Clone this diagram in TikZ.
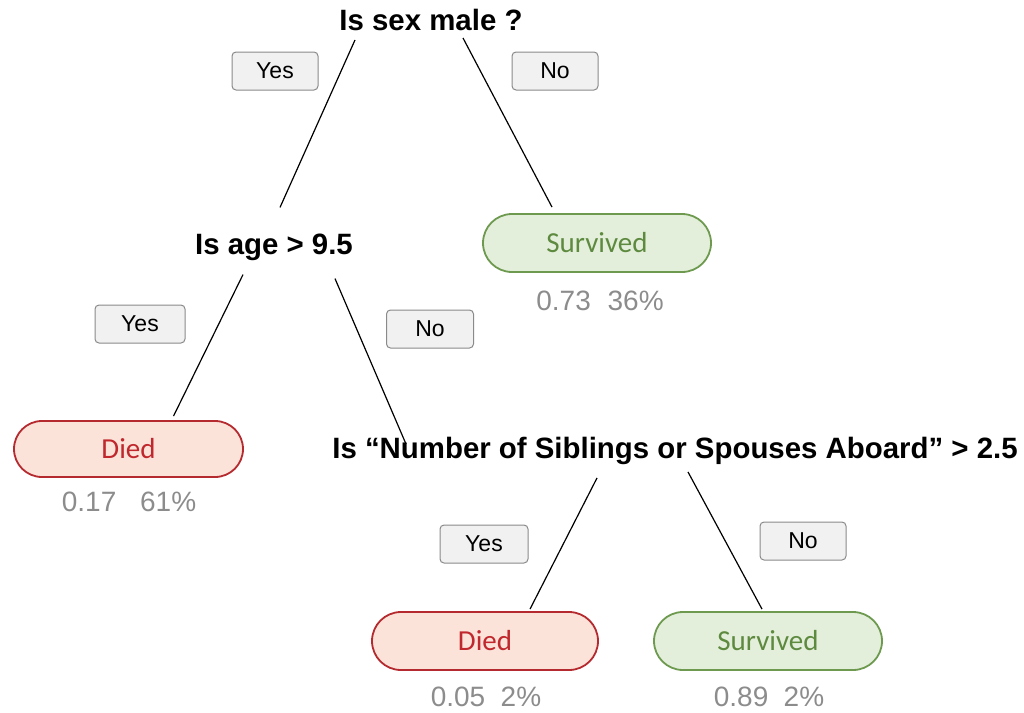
\documentclass[tikz,border=0pt]{standalone}
\usepackage{fontspec}
\setmainfont{Liberation Sans}
\newfontfamily\calib{Carlito}
\definecolor{sfill}{HTML}{E3EFDA}
\definecolor{sdraw}{HTML}{6E9A50}
\definecolor{stext}{HTML}{5E8A40}
\definecolor{dfill}{HTML}{FBE3DA}
\definecolor{ddraw}{HTML}{B52A2E}
\definecolor{dtext}{HTML}{C0282D}
\definecolor{ynfill}{HTML}{F1F1F1}
\definecolor{yndraw}{HTML}{8A8A8A}
\definecolor{numgray}{HTML}{8C8C8C}
\begin{document}
\begin{tikzpicture}[x=1pt,y=-1pt,
  question/.style={font=\fontsize{29.4}{32}\selectfont\bfseries, inner sep=0pt},
  yn/.style={draw=yndraw, fill=ynfill, rounded corners=4pt, line width=1pt, minimum width=86pt, minimum height=38pt, inner sep=0pt, font=\fontsize{23}{26}\selectfont},
  surv/.style={draw=sdraw, fill=sfill, text=stext, rounded corners=29pt, line width=1.8pt, minimum width=228pt, minimum height=58pt, inner sep=0pt, font=\calib\fontsize{29}{31}\selectfont},
  died/.style={draw=ddraw, fill=dfill, text=dtext, rounded corners=28pt, line width=1.8pt, minimum width=228pt, minimum height=56pt, inner sep=0pt, font=\calib\fontsize{29}{31}\selectfont},
  num/.style={text=numgray, font=\fontsize{28}{30}\selectfont, inner sep=0pt},
  edge/.style={line width=1.2pt, black}]
\useasboundingbox (0,0) rectangle (1024,712);

\node[question] (q1) at (431,20) {Is sex male ?};
\node[question] (q2) at (274,247) {Is age > 9.5};
\node[question] (q3) at (675,451) {Is “Number of Siblings or Spouses Aboard” > 2.5};

\node[yn] (y1) at (275,71) {Yes};
\node[yn] (n1) at (555,71) {No};
\node[yn, minimum width=90pt] (y2) at (140,324) {Yes};
\node[yn, minimum width=87pt] (n2) at (430,329) {No};
\node[yn, minimum width=88pt] (y3) at (484,544) {Yes};
\node[yn] (n3) at (803,541) {No};

\node[surv] (s1) at (597,243) {Survived};
\node[num] (v1) at (600,301) {0.73\hspace{0.6em}36\%};

\node[died, minimum width=229pt] (d1) at (128.5,449) {Died};
\node[num] (v2) at (129,502) {0.17\hspace{0.85em}61\%};

\node[died, minimum width=226pt, minimum height=58pt, rounded corners=29pt] (d2) at (485,641) {Died};
\node[num] (v3) at (486,697) {0.05\hspace{0.55em}2\%};

\node[surv] (s2) at (768,641) {Survived};
\node[num] (v4) at (769,697) {0.89\hspace{0.55em}2\%};

\draw[edge] ([xshift=-76pt,yshift=-9pt]q1.south) -- ([xshift=6pt,yshift=26pt]q2.north);
\draw[edge] ([xshift=32pt,yshift=-7pt]q1.south) -- ([xshift=-45pt,yshift=6pt]s1.north);
\draw[edge] ([xshift=-31pt,yshift=-14pt]q2.south) -- ([xshift=45pt,yshift=4pt]d1.north);
\draw[edge] ([xshift=61pt,yshift=-18pt]q2.south) -- ([xshift=-269pt,yshift=-7pt]q3.north);
\draw[edge] ([xshift=-78pt,yshift=-13pt]q3.south) -- ([xshift=45pt,yshift=2pt]d2.north);
\draw[edge] ([xshift=13pt,yshift=-7pt]q3.south) -- ([xshift=-6pt,yshift=2pt]s2.north);
\end{tikzpicture}
\end{document}
